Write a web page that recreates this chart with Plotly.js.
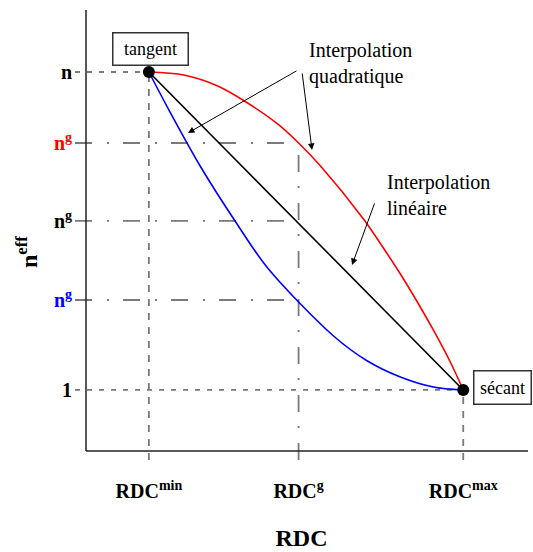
<!DOCTYPE html>
<html>
<head>
<meta charset="utf-8">
<script src="https://cdn.plot.ly/plotly-3.0.1.min.js"></script>
<style>html,body{margin:0;padding:0;background:#fff;}#chart{width:533px;height:552px;}</style>
</head>
<body>
<div id="chart"></div>
<script>
// ---- data (arbitrary schematic units) ----
const xTickVals = [1, 3.381, 6];
const xTickText = ['RDC<sup>min</sup>', 'RDC<sup>g</sup>', 'RDC<sup>max</sup>'];
const yTickVals = [1, 2.132, 3.126, 4.107, 5];
const yTickText = ['1', '<span style="color:#0000ff">n<sup>g</sup></span>', 'n<sup>g</sup>', '<span style="color:#ff0000">n<sup>g</sup></span>', 'n'];

// quadratic interpolation (red, tangent start)
const redX  = [1, 1.556, 2.095, 2.571, 3.048, 3.381, 3.730, 4.413, 4.730, 5.0, 5.270, 5.524, 5.794, 6];
const redY  = [5, 4.962, 4.824, 4.610, 4.346, 4.107, 3.818, 3.151, 2.786, 2.459, 2.107, 1.755, 1.352, 1];
// quadratic interpolation (blue, tangent end)
const blueX = [1, 1.302, 1.825, 2.381, 2.889, 3.937, 4.476, 5.0, 5.524, 6];
const blueY = [5, 4.547, 3.805, 3.113, 2.535, 1.679, 1.365, 1.164, 1.038, 1];
// linear interpolation
const linX  = [1, 6];
const linY  = [5, 1];
// tangent / secant points
const endX  = [1, 6];
const endY  = [5, 1];

const xRange = [-0.175, 7.03];
const yRange = [0.119, 5.78];
const axisY = 0.233;   // where the x axis line is drawn
const axisX = 0;       // where the y axis line is drawn
const belowY = 0.119;  // reference lines run slightly below the axis

const FONT = '"Liberation Serif", "Times New Roman", serif';
const GREY = '#7a7a7a';
const DASH = '5px,7px';
const VDASH = '7px,7px';
const DASHDOT = '17px,15px,2px,14px';

const [xMin, xG, xMax] = xTickVals;
const [yOne, yBlue, yBlack, yRed, yN] = yTickVals;

const traces = [
  {x: redX, y: redY, mode: 'lines', line: {color: '#ff0000', width: 1.6, shape: 'spline', smoothing: 0.9}, hoverinfo: 'skip'},
  {x: blueX, y: blueY, mode: 'lines', line: {color: '#0000ff', width: 1.6, shape: 'spline', smoothing: 0.9}, hoverinfo: 'skip'},
  {x: linX, y: linY, mode: 'lines', line: {color: '#000000', width: 1.6}, hoverinfo: 'skip'},
  {x: endX, y: endY, mode: 'markers', marker: {color: '#000', size: 12}, hoverinfo: 'skip'}
];

function hline(y, x1, dash) {
  return {type: 'line', xref: 'x', yref: 'y', x0: xRange[0], x1: x1, y0: y, y1: y,
          line: {color: GREY, width: 1.8, dash: dash}, layer: 'below'};
}
function vline(x, y1, dash) {
  return {type: 'line', xref: 'x', yref: 'y', x0: x, x1: x, y0: belowY, y1: y1,
          line: {color: GREY, width: 1.8, dash: dash}, layer: 'below'};
}

const shapes = [
  hline(yN, xMin, DASH),
  hline(yOne, xMax, DASH),
  hline(yRed, xG, DASHDOT),
  hline(yBlack, xG, DASHDOT),
  hline(yBlue, xG, DASHDOT),
  vline(xMin, yN, VDASH),
  vline(xG, yRed, DASHDOT),
  vline(xMax, yOne, VDASH),
  // axis lines
  {type: 'line', xref: 'x', yref: 'y', x0: axisX, x1: axisX, y0: axisY, y1: yRange[1], line: {color: '#222', width: 1.5}},
  {type: 'line', xref: 'x', yref: 'y', x0: axisX, x1: xRange[1], y0: axisY, y1: axisY, line: {color: '#222', width: 1.5}}
];

function arrow(xh, yh, xt, yt) {
  return {x: xh, y: yh, ax: xt, ay: yt, xref: 'x', yref: 'y', axref: 'x', ayref: 'y',
          text: '', showarrow: true, arrowhead: 2, arrowsize: 1.3, arrowwidth: 1, arrowcolor: '#000'};
}

const annotations = [
  {x: 3.515, y: 5.113, xref: 'x', yref: 'y', xanchor: 'left', yanchor: 'middle', align: 'left',
   text: 'Interpolation<br>quadratique', showarrow: false, font: {family: FONT, size: 20, color: '#000', weight: 'normal'}},
  {x: 4.756, y: 3.453, xref: 'x', yref: 'y', xanchor: 'left', yanchor: 'middle', align: 'left',
   text: 'Interpolation<br>linéaire', showarrow: false, font: {family: FONT, size: 20, color: '#000', weight: 'normal'}},
  arrow(1.622, 4.233, 3.372, 5.025),
  arrow(3.595, 4.019, 3.436, 5.0),
  arrow(4.231, 2.572, 4.597, 3.365),
  {x: 1.018, y: 5.289, xref: 'x', yref: 'y', xanchor: 'center', yanchor: 'middle',
   text: 'tangent', showarrow: false, width: 72, height: 29,
   bordercolor: '#333', borderwidth: 1.5, bgcolor: '#fff', font: {family: FONT, size: 18, color: '#000', weight: 'normal'}},
  {x: 6.617, y: 1.025, xref: 'x', yref: 'y', xanchor: 'center', yanchor: 'middle',
   text: 'sécant', showarrow: false, width: 54, height: 30,
   bordercolor: '#333', borderwidth: 1.5, bgcolor: '#fff', font: {family: FONT, size: 18, color: '#000', weight: 'normal'}},
  {x: -0.106, y: 0.462, xref: 'paper', yref: 'paper', xanchor: 'center', yanchor: 'middle',
   text: 'n<sup>eff</sup>', textangle: -90, showarrow: false,
   font: {family: FONT, size: 24, color: '#000', weight: 'bold'}}
];

const layout = {
  width: 533, height: 552,
  margin: {l: 75, r: 5, t: 10, b: 92},
  paper_bgcolor: '#fff', plot_bgcolor: 'rgba(0,0,0,0)',
  font: {family: FONT, color: '#000'},
  showlegend: false,
  xaxis: {range: xRange, showgrid: false, zeroline: false, showline: false, ticks: '',
          tickvals: xTickVals, ticktext: xTickText, ticklabelstandoff: 17,
          tickfont: {family: FONT, size: 20, color: '#000', weight: 'bold'},
          title: {text: 'RDC', standoff: 28, font: {family: FONT, size: 24, color: '#000', weight: 'bold'}}},
  yaxis: {range: yRange, showgrid: false, zeroline: false, showline: false, ticks: '',
          tickvals: yTickVals, ticktext: yTickText, ticklabelstandoff: 2,
          tickfont: {family: FONT, size: 20, color: '#000', weight: 'bold'}},
  shapes: shapes,
  annotations: annotations
};

Plotly.newPlot('chart', traces, layout, {staticPlot: true, displayModeBar: false});
</script>
</body>
</html>
